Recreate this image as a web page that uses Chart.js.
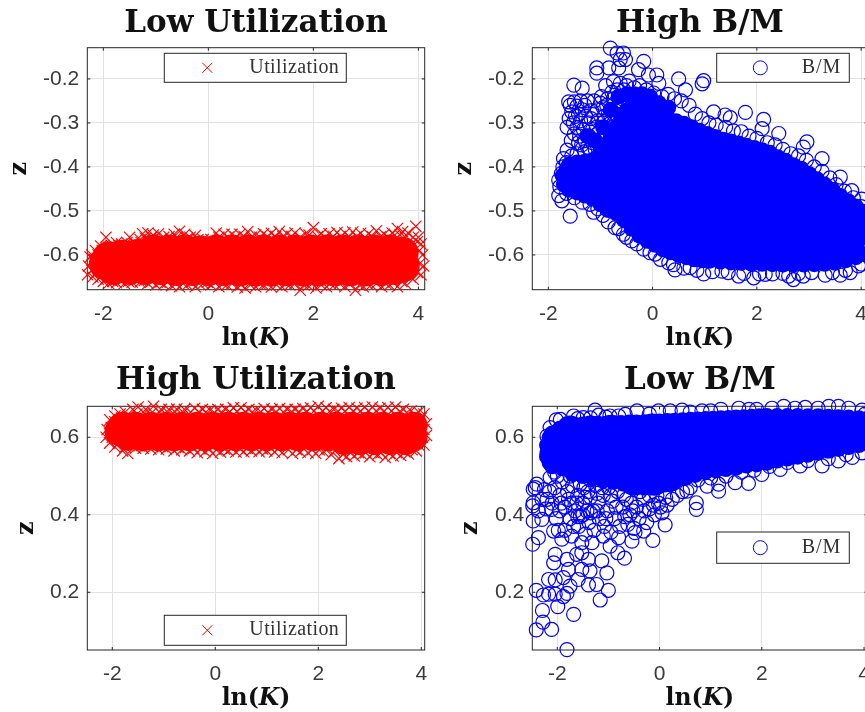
<!DOCTYPE html>
<html>
<head>
<meta charset="utf-8">
<title>Utilization and B/M</title>
<script src="https://cdn.jsdelivr.net/npm/chart.js@4"></script>
<style>
  html, body { margin: 0; padding: 0; background: #fff; overflow: hidden; width: 865px; height: 712px; }
  canvas { position: absolute; filter: blur(0.45px); }
</style>
</head>
<body>
<!-- canvases run a bit wider than the panels: Chart.js keeps room on the right for the big dense markers -->
<canvas id="lowUtil" width="441" height="356" style="left:0;top:0"></canvas>
<canvas id="highBM" width="449" height="356" style="left:435px;top:0"></canvas>
<canvas id="highUtil" width="441" height="356" style="left:0;top:356px"></canvas>
<canvas id="lowBM" width="449" height="356" style="left:435px;top:356px"></canvas>
<script>
// ==========================
// Data, [lnK, z]
// "Core"/"Rim" = parts of a blob where the marks merge, "Edge" = marks you can still see
// ==========================
const kTicks = [-2, 0, 2, 4];
const negZTicks = [-0.6, -0.5, -0.4, -0.3, -0.2];
const posZTicks = [0.2, 0.4, 0.6];

const lowUtilCore = [
  [-1.97,-.62],[-1.9,-.605],[-1.65,-.602],[-1.35,-.6],[-1.05,-.59],[-.75,-.59],[-.45,-.59],[-.15,-.592],[.15,-.59],[.45,-.59],
  [.75,-.59],[1.05,-.59],[1.35,-.59],[1.65,-.59],[1.95,-.59],[2.25,-.59],[2.55,-.59],[2.85,-.59],[3.15,-.59],[3.45,-.59],[3.7,-.595],
  [-1.8,-.632],[-1.5,-.632],[-1.2,-.632],[-.9,-.632],[-.6,-.634],[-.3,-.634],[0,-.634],[.3,-.634],[.6,-.635],[.9,-.635],
  [1.2,-.635],[1.5,-.635],[1.8,-.635],[2.1,-.635],[2.4,-.635],[2.7,-.635],[3,-.635],[3.3,-.634],[3.55,-.632],[3.72,-.625]
];
const lowUtilEdge = [
  [-2.25,-.605],[-2.15,-.59],[-2.05,-.58],[-1.95,-.56],[-1.85,-.578],[-1.75,-.572],[-1.65,-.575],[-1.55,-.572],[-1.5,-.56],[-1.4,-.575],
  [-1.3,-.565],[-1.25,-.552],[-1.15,-.55],[-1.05,-.555],[-.95,-.552],[-.85,-.56],[-.75,-.558],[-.65,-.553],[-.55,-.546],[-.45,-.553],
  [-.35,-.56],[-.25,-.556],[-.1,-.565],[.05,-.565],[.15,-.55],[.3,-.553],[.45,-.553],[.6,-.553],[.75,-.547],[.9,-.555],
  [1.05,-.552],[1.2,-.551],[1.35,-.547],[1.5,-.552],[1.65,-.55],[1.85,-.552],[2,-.538],[2.15,-.552],[2.3,-.552],[2.45,-.549],
  [2.6,-.55],[2.75,-.548],[2.9,-.551],[3.05,-.552],[3.2,-.545],[3.35,-.553],[3.5,-.55],[3.6,-.54],[3.7,-.547],[3.8,-.55],
  [3.95,-.535],[4,-.56],[4.05,-.575],[4.08,-.6],[4.1,-.625],[4.05,-.645],[3.9,-.655],[3.75,-.665],[3.6,-.672],[3.45,-.668],
  [3.3,-.672],[3.1,-.668],[2.95,-.672],[2.8,-.68],[2.6,-.672],[2.4,-.668],[2.25,-.672],[2.05,-.675],[1.9,-.67],[1.75,-.68],
  [1.55,-.668],[1.4,-.672],[1.2,-.673],[1.05,-.668],[.9,-.672],[.7,-.675],[.55,-.673],[.35,-.668],[.2,-.672],[.05,-.668],
  [-.1,-.665],[-.25,-.672],[-.4,-.668],[-.55,-.672],[-.7,-.67],[-.85,-.667],[-1,-.668],[-1.15,-.665],[-1.3,-.662],[-1.45,-.662],
  [-1.6,-.665],[-1.75,-.663],[-1.9,-.665],[-2,-.66],[-2.1,-.655],[-2.2,-.65],[-2.3,-.645],[-2.28,-.625],[-2.22,-.6],
  // second layer just inside the outline
  [-2.18,-.61],[-2.1,-.6],[-2.02,-.59],[-1.9,-.583],[-1.7,-.58],[-1.58,-.582],[-1.42,-.58],[-1.28,-.572],[-1.2,-.562],[-1.08,-.56],
  [-.9,-.565],[-.72,-.565],[-.6,-.56],[-.4,-.562],[-.2,-.565],[.2,-.56],[.38,-.56],[.52,-.56],[.68,-.558],[.82,-.56],
  [.98,-.56],[1.12,-.558],[1.28,-.558],[1.42,-.558],[1.58,-.558],[1.75,-.56],[1.92,-.555],[2.08,-.558],[2.22,-.56],[2.38,-.558],
  [2.52,-.558],[2.68,-.558],[2.82,-.558],[2.98,-.56],[3.12,-.558],[3.28,-.558],[3.42,-.56],[3.55,-.555],[3.65,-.555],[3.75,-.56],
  [3.9,-.56],[3.98,-.57],[4.02,-.59],[4.02,-.62],[3.98,-.64],[3.85,-.65],[3.68,-.66],[3.52,-.662],[3.38,-.665],[3.2,-.665],
  [3.02,-.665],[2.88,-.668],[2.7,-.665],[2.5,-.665],[2.32,-.665],[2.15,-.668],[1.98,-.665],[1.82,-.668],[1.65,-.665],[1.48,-.665],
  [1.3,-.668],[1.12,-.665],[.98,-.665],[.8,-.668],[.62,-.668],[.45,-.665],[.28,-.665],[.12,-.662],[-.02,-.662],[-.18,-.665],
  [-.32,-.662],[-.48,-.665],[-.62,-.665],[-.78,-.662],[-.92,-.662],[-1.08,-.66],[-1.22,-.658],[-1.38,-.656],[-1.52,-.66],[-1.68,-.658],
  [-1.82,-.66],[-1.95,-.655],[-2.05,-.65],[-2.15,-.642],[-2.22,-.635]
];

const highBMCore = [
  [-.2,-.282],[.1,-.295],[-.5,-.308],
  [-.45,-.32],[-.05,-.32],[.35,-.32],[.65,-.33],[1,-.345],[1.5,-.36],
  [-.75,-.365],[-.35,-.365],[.05,-.365],[.45,-.365],[.85,-.365],[1.25,-.365],[1.65,-.375],[1.95,-.385],[2.3,-.395],
  [-1.45,-.41],[-1.05,-.41],[-.65,-.41],[-.25,-.41],[.15,-.41],[.55,-.41],[.95,-.41],[1.35,-.41],[1.75,-.41],[2.15,-.41],[2.55,-.42],[2.95,-.435],
  [-1.5,-.425],[-1.45,-.44],[-1.25,-.44],[-.85,-.455],[-.45,-.455],[-.05,-.455],[.35,-.455],[.75,-.455],[1.15,-.455],[1.55,-.455],[1.95,-.455],[2.35,-.455],[2.75,-.455],[3.15,-.465],[3.45,-.475],[3.7,-.495],
  [-.6,-.49],[-.2,-.5],[.2,-.5],[.6,-.5],[1,-.5],[1.4,-.5],[1.8,-.5],[2.2,-.5],[2.6,-.5],[3,-.5],[3.4,-.5],[3.8,-.52],
  [-.3,-.52],[-.1,-.535],[.25,-.545],[.65,-.545],[1.05,-.545],[1.45,-.545],[1.85,-.545],[2.25,-.545],[2.65,-.545],[3.05,-.545],[3.45,-.545],[3.85,-.56],[4.05,-.54],
  [.35,-.575],[.55,-.58],[.8,-.585],[1.2,-.59],[1.6,-.59],[2,-.59],[2.4,-.59],[2.8,-.59],[3.2,-.59],[3.6,-.585]
];
const highBMRim = [
  [-1.6,-.395],[-1.45,-.39],[-1.3,-.388],[-1.15,-.385],[-1,-.37],[-.9,-.35],[-.8,-.33],[-.7,-.31],[-.6,-.29],[-.5,-.272],
  [-.4,-.262],[-.3,-.257],[-.2,-.258],[-.1,-.262],[0,-.268],[.1,-.275],[.2,-.282],[.3,-.29],[.45,-.296],[.6,-.302],
  [.75,-.31],[.9,-.318],[1.05,-.325],[1.2,-.332],[1.35,-.338],[1.5,-.342],[1.65,-.347],[1.8,-.352],[1.95,-.357],[2.1,-.362],
  [2.25,-.368],[2.4,-.378],[2.55,-.386],[2.7,-.396],[2.85,-.404],[3,-.416],[3.15,-.428],[3.3,-.44],[3.45,-.452],[3.6,-.466],
  [3.75,-.478],[3.9,-.49],[4.05,-.502],
  [-1.6,-.452],[-1.45,-.458],[-1.3,-.465],[-1.15,-.472],[-1,-.485],[-.85,-.498],[-.7,-.505],[-.55,-.52],[-.4,-.54],[-.25,-.556],
  [-.1,-.568],[.05,-.577],[.2,-.587],[.35,-.594],[.5,-.6],[.65,-.605],[.8,-.61],[.95,-.612],[1.1,-.613],[1.3,-.615],
  [1.5,-.617],[1.7,-.618],[1.9,-.62],[2.1,-.62],[2.3,-.621],[2.5,-.622],[2.7,-.622],[2.9,-.622],[3.1,-.621],[3.3,-.62],
  [3.5,-.618],[3.7,-.612],[3.9,-.605],[4.05,-.598],
  [-1.72,-.42],[-1.7,-.44],[-1.65,-.405],
  // upper left, merged patches
  [-1.25,-.33],[-1.1,-.34],[-.95,-.31],[-.8,-.27],[-.65,-.24],[-.5,-.235],[-.35,-.235],[-.2,-.235],[-.05,-.24],[.12,-.255],[.3,-.265]
];
const highBMEdge = [
  // top stragglers
  [-.81,-.13],[-.68,-.141],[-.56,-.141],[-.52,-.156],[-.62,-.156],[-.17,-.16],[-1.07,-.175],[-1.07,-.187],[-.84,-.175],[-.65,-.175],
  [-.27,-.179],[-.08,-.191],[.08,-.191],[.12,-.21],[.5,-.2],[.98,-.204],[.95,-.211],[-1.51,-.214],[-1.35,-.221],[-.75,-.206],
  [.63,-.225],[1.78,-.276],[1.17,-.275],[1.39,-.282],[1.49,-.288],[2.13,-.292],[2.1,-.313],[2.42,-.324],[2.96,-.343],[2.89,-.355],
  [3.25,-.381],[3.6,-.423],[3.82,-.454],[4.01,-.473],[-1.58,-.512],[-1.64,-.31],[-1.61,-.252],[-1.64,-.362],[-1.71,-.381],[-1.8,-.465],
  [-1.74,-.477],[-1.13,-.503],[-.72,-.538],[-.56,-.553],[-.4,-.568],[-.17,-.587],[.05,-.598],[.31,-.618],[.43,-.634],[.72,-.629],
  [.98,-.643],[1.33,-.637],[1.65,-.648],[1.94,-.652],[2.16,-.644],[2.61,-.648],[2.7,-.656],[2.89,-.648],[3.31,-.646],[3.6,-.646],
  [3.79,-.64],[4.01,-.621],
  // upper left band where the rings stay apart
  [-1.58,-.26],[-1.55,-.275],[-1.6,-.29],[-1.5,-.252],[-1.45,-.262],[-1.42,-.28],[-1.52,-.3],[-1.45,-.31],[-1.38,-.295],[-1.5,-.325],
  [-1.4,-.33],[-1.33,-.315],[-1.3,-.26],[-1.28,-.285],[-1.22,-.3],[-1.3,-.34],[-1.22,-.33],[-1.15,-.345],[-1.15,-.315],[-1.17,-.272],
  [-1.12,-.25],[-1.06,-.27],[-1.05,-.295],[-1.05,-.325],[-1.02,-.35],[-.98,-.24],[-.95,-.265],[-.95,-.3],[-.92,-.325],[-.9,-.215],
  [-.86,-.245],[-.85,-.28],[-.8,-.3],[-.78,-.23],[-.72,-.255],[-.7,-.28],[-.62,-.21],[-.55,-.225],[-.45,-.205],[-.35,-.22],
  [-.25,-.215],[-.12,-.225],[.02,-.232],[.18,-.24],[.3,-.235],[.42,-.245],[.55,-.25],[.7,-.26],[.82,-.28],[.95,-.29],
  [1.08,-.3],[1.22,-.305],[1.4,-.31],[1.55,-.318],[1.7,-.32],[1.85,-.33],[2,-.335],[2.2,-.345],[2.35,-.35],[2.5,-.36],
  [2.65,-.37],[2.8,-.375],[2.95,-.385],[3.1,-.4],[3.25,-.41],[3.4,-.425],[3.52,-.44],[3.68,-.455],[3.85,-.47],[4,-.49],
  [-1.48,-.285],[-1.35,-.27],[-1.25,-.25],[-1.36,-.35],[-1.42,-.345],[-1.56,-.34],[-1.25,-.355],[-1.1,-.36],[-.97,-.335],[-.88,-.26],
  [-.75,-.245],[-.68,-.225],[-.58,-.245],[-.5,-.215],[-.92,-.285],[-.74,-.3],[-1.18,-.29],[-1.08,-.31],[-1.38,-.25],[-1,-.255],
  // left tip, lower edge
  [-1.8,-.43],[-1.78,-.445],[-1.75,-.415],[-1.72,-.4],[-1.65,-.39],[-1.55,-.375],[-1.45,-.37],[-1.3,-.365],[-1.2,-.36],[-1.65,-.46],
  [-1.5,-.47],[-1.35,-.48],[-1.2,-.485],[-1.05,-.495],[-.95,-.51],[-.85,-.525],[-.65,-.54],[-.5,-.56],[-.3,-.575],[-.05,-.595],
  [.15,-.61],[.4,-.622],[.6,-.63],[.85,-.635],[1.15,-.638],[1.45,-.64],[1.75,-.642],[2.05,-.643],[2.3,-.643],[2.5,-.642],
  [2.8,-.642],[3.05,-.64],[3.45,-.64],[3.7,-.635],[3.95,-.625]
];

const highUtilCore = [
  [-1.88,.615],
  [-1.8,.63],[-1.55,.63],[-1.25,.63],[-.95,.63],[-.65,.63],[-.35,.63],[-.05,.63],[.25,.63],[.55,.63],[.85,.63],
  [1.15,.63],[1.45,.63],[1.75,.63],[2.05,.63],[2.35,.63],[2.65,.63],[2.95,.63],[3.25,.63],[3.55,.63],[3.85,.63],
  [-1.7,.602],[-1.4,.6],[-1.1,.6],[-.8,.6],[-.5,.6],[-.2,.6],[.1,.6],[.4,.6],[.7,.6],[1,.6],
  [1.3,.6],[1.6,.6],[1.9,.6],[2.2,.6],[2.5,.59],[2.8,.59],[3.1,.59],[3.4,.59],[3.7,.59],[3.85,.6]
];
const highUtilEdge = [
  [-2.1,.62],[-2.05,.645],[-1.95,.655],[-1.85,.66],[-1.75,.665],[-1.6,.672],[-1.5,.678],[-1.35,.672],[-1.2,.68],[-1.05,.672],
  [-.9,.672],[-.75,.673],[-.6,.672],[-.4,.675],[-.25,.672],[-.1,.67],[.05,.672],[.2,.672],[.35,.676],[.5,.676],
  [.65,.672],[.8,.67],[.95,.674],[1.1,.672],[1.25,.674],[1.4,.672],[1.55,.672],[1.7,.674],[1.85,.676],[2,.68],
  [2.15,.676],[2.3,.672],[2.45,.675],[2.6,.677],[2.75,.675],[2.9,.677],[3.05,.678],[3.2,.675],[3.35,.677],[3.5,.678],
  [3.65,.672],[3.8,.668],[3.95,.665],[4.05,.66],[4.1,.635],
  [-2.12,.6],[-2.05,.585],[-1.95,.575],[-1.8,.565],[-1.7,.558],[-1.55,.572],[-1.4,.572],[-1.25,.57],[-1.1,.568],[-.95,.57],
  [-.8,.565],[-.65,.568],[-.5,.565],[-.35,.56],[-.2,.563],[-.05,.558],[.1,.562],[.25,.565],[.4,.562],[.55,.563],
  [.7,.565],[.85,.563],[1,.565],[1.15,.562],[1.3,.56],[1.5,.558],[1.65,.562],[1.8,.56],[1.95,.558],[2.1,.563],
  [2.25,.555],[2.4,.545],[2.55,.55],[2.7,.552],[2.85,.555],[3,.55],[3.15,.555],[3.3,.548],[3.45,.552],[3.6,.553],
  [3.75,.557],[3.9,.565],[4.05,.58],[4.1,.605],
  // second layer just inside the outline
  [-2.02,.625],[-1.95,.64],[-1.82,.65],[-1.68,.655],[-1.52,.66],[-1.38,.662],[-1.22,.665],[-1.08,.664],[-.92,.664],[-.78,.665],
  [-.62,.664],[-.48,.665],[-.32,.666],[-.18,.665],[-.02,.664],[.12,.665],[.28,.666],[.42,.667],[.58,.666],[.72,.665],
  [.88,.666],[1.02,.665],[1.18,.666],[1.32,.665],[1.48,.666],[1.62,.666],[1.78,.667],[1.92,.668],[2.08,.668],[2.22,.667],
  [2.38,.667],[2.52,.668],[2.68,.668],[2.82,.668],[2.98,.668],[3.12,.668],[3.28,.668],[3.42,.668],[3.58,.666],[3.72,.664],
  [3.88,.658],[4,.65],[4.05,.62],[4.02,.6],[3.95,.58],[3.82,.568],[3.68,.562],[3.52,.56],[3.38,.558],[3.22,.56],
  [3.08,.56],[2.92,.56],[2.78,.56],[2.62,.56],[2.48,.556],[2.32,.565],[2.18,.57],[2.02,.568],[1.88,.568],[1.72,.57],
  [1.58,.568],[1.42,.568],[1.22,.57],[1.08,.572],[.92,.57],[.78,.572],[.62,.572],[.48,.57],[.32,.572],[.18,.57],
  [.02,.568],[-.12,.57],[-.28,.57],[-.42,.572],[-.58,.574],[-.72,.574],[-.88,.576],[-1.02,.576],[-1.18,.578],[-1.32,.578],
  [-1.48,.578],[-1.62,.578],[-1.75,.575],[-1.88,.585],[-2,.6],[-2.05,.61]
];

const lowBMCore = [
  [-1.75,.62],[-1.35,.62],[-.95,.622],[-.55,.622],[-.15,.625],[.25,.625],[.65,.628],[1.05,.63],[1.45,.632],[1.85,.635],[2.25,.635],[2.65,.635],[3.05,.635],[3.45,.635],[3.85,.63],
  [-1.95,.59],[-1.55,.59],[-1.15,.59],[-.75,.59],[-.35,.59],[.05,.59],[.45,.59],[.85,.59],[1.25,.59],[1.65,.59],[2.05,.59],[2.45,.595],[2.85,.595],[3.25,.6],[3.65,.6],[4,.605],
  [-1.95,.55],[-1.75,.55],[-1.35,.55],[-.95,.55],[-.55,.55],[-.15,.55],[.25,.55],[.65,.55],[1.05,.55],[1.45,.55],[1.85,.55],[2.25,.565],[2.65,.58],[3.05,.585],[3.45,.595],
  [-1.5,.52],[-1.1,.51],[-.7,.51],[-.3,.51],[.1,.51],[.5,.525],
  [-.5,.485],[-.1,.485],[.2,.495]
];
const lowBMRim = [
  [-2.1,.61],[-1.95,.622],[-1.8,.63],[-1.65,.632],[-1.5,.633],[-1.35,.634],[-1.2,.635],[-1.05,.635],[-.9,.636],[-.75,.637],
  [-.6,.638],[-.45,.638],[-.3,.639],[-.15,.64],[0,.641],[.15,.642],[.3,.643],[.45,.644],[.6,.645],[.75,.646],
  [.9,.647],[1.05,.648],[1.2,.649],[1.35,.65],[1.5,.651],[1.65,.652],[1.8,.653],[1.95,.654],[2.1,.655],[2.3,.655],
  [2.5,.655],[2.7,.655],[2.9,.654],[3.1,.654],[3.3,.653],[3.5,.652],[3.7,.651],[3.9,.649],[4.05,.647],
  [-2.15,.535],[-2.1,.525],[-1.9,.52],[-1.7,.505],[-1.5,.5],[-1.3,.495],[-1.1,.488],[-.9,.485],[-.7,.48],[-.5,.475],
  [-.3,.47],[-.1,.472],[.1,.478],[.3,.487],[.5,.495],[.7,.503],[.9,.51],[1.1,.515],[1.3,.518],[1.5,.522],
  [1.7,.527],[1.9,.53],[2.1,.534],[2.3,.54],[2.5,.545],[2.7,.55],[2.9,.555],[3.1,.56],[3.3,.565],[3.5,.57],
  [3.7,.575],[3.9,.58],[4.05,.585],
  [-2.2,.58],[-2.2,.55],[-2.15,.6],[-2.18,.565]
];
const lowBMEdge = [
  // sparse tail, bottom left
  [-1.81,.052],[-2.41,.103],[-2.11,.104],[-2.28,.123],[-2.29,.153],[-1.68,.143],[-1.99,.163],[-2.41,.205],[-2.27,.193],[-2.17,.195],
  [-2.04,.195],[-1.88,.189],[-1.81,.197],[-1.75,.216],[-1.16,.18],[-1,.205],[-1.23,.22],[-1.39,.219],[-2.17,.233],[-2.04,.232],
  [-1.88,.238],[-1.59,.233],[-1.03,.25],[-1.36,.255],[-2.07,.276],[-2.04,.298],[-1.81,.285],[-1.78,.259],[-1.52,.259],[-1.62,.298],
  [-1.39,.285],[-1.13,.281],[-.685,.288],[-.816,.302],[-.966,.319],[-1.52,.302],[-2.48,.324],[-2.37,.341],[-1.91,.337],[-2.07,.358],
  [-.13,.334],[-.54,.332],[-.31,.358],[.11,.374],[-.48,.354],[-.8,.341],[-1.32,.328],[-1.1,.345],[-1.52,.328],[-1.72,.345],
  [-2.47,.384],[-2.3,.388],[-2.48,.423],[-2.43,.47],[-2.4,.479],[-2.47,.466],[-2.47,.431],[-2.3,.44],[-2.37,.41],[-2.11,.414],
  [.72,.431],[.72,.414],[1.155,.461],[1.155,.479],[1.48,.483],[1.74,.481],[2,.504],[.93,.474],[.535,.461],[2.36,.517],
  [2.75,.526],[3.18,.526],[3.5,.539],[3.77,.548],[3.96,.56],
  // top edge
  [-1.94,.646],[-1.68,.655],[-1.49,.651],[-1.26,.67],[-1.19,.657],[-.97,.655],[-.44,.668],[-.67,.659],[-.02,.668],[.21,.668],
  [.44,.67],[.83,.668],[1.2,.672],[1.55,.675],[1.9,.672],[2.2,.675],[2.43,.68],[2.85,.677],[3.31,.68],[3.5,.68],[3.96,.67],
  [-2.14,.625],[-2.2,.603],[-2.2,.56],[-2.14,.535],[-2.14,.496],[-2.05,.51],[-2.02,.645],[-1.6,.648],[-1.35,.65],[-1.05,.652],
  [-.8,.655],[-.2,.66],[.6,.665],[1,.668],[1.75,.672],[2.65,.675],[3.1,.675],[3.7,.675],[4.02,.66],
  // loose middle, rings with white between them
  [-2.05,.47],[-1.95,.45],[-1.9,.485],[-1.85,.42],[-1.8,.46],[-1.75,.39],[-1.72,.43],[-1.7,.475],[-1.65,.41],[-1.6,.45],
  [-1.58,.37],[-1.55,.395],[-1.5,.43],[-1.48,.47],[-1.45,.35],[-1.42,.41],[-1.38,.38],[-1.35,.445],[-1.3,.41],[-1.28,.36],
  [-1.25,.475],[-1.2,.43],[-1.18,.39],[-1.1,.45],[-1.08,.37],[-1.02,.41],[-1,.47],[-.95,.355],[-.92,.435],[-.88,.39],
  [-.82,.46],[-.78,.37],[-.72,.42],[-.65,.44],[-.62,.375],[-.58,.4],[-.5,.365],[-.45,.42],[-.4,.39],[-.32,.44],
  [-.25,.38],[-.2,.415],[-.1,.4],[-.02,.43],[.05,.405],[.15,.425],[.25,.44],[.35,.45],[.45,.46],[.6,.47],
  [-2.2,.44],[-2.15,.46],[-2.1,.43],[-2.02,.39],[-1.95,.41],[-2.22,.415],[-2.25,.465],[-1.85,.36],[-1.68,.37],[-1.98,.36],
  [-1.9,.52],[-1.75,.5],[-2,.5],[-1.65,.51],[-1.55,.48],[-1.35,.49],[.75,.49],[1,.495],[1.3,.5],[1.6,.51],
  [1.85,.515],[2.15,.525],[2.5,.535],[2.9,.54],[3.3,.545],[3.65,.555],
  [-1.92,.43],[-1.78,.44],[-1.62,.43],[-1.45,.445],[-1.4,.46],[-1.22,.455],[-1.12,.47],[-.95,.45],[-.85,.42],[-.7,.45],
  [-.55,.43],[-.38,.46],[-.2,.45],[-.05,.45],[.12,.445],[.02,.42],[-.12,.425],[-.3,.41],[-.52,.41],[-.68,.395],
  [-1.05,.39],[-1.22,.41],[-1.35,.405],[-1.5,.4],[-1.6,.395]
];

// ==========================
// Panel Settings
// ==========================
const TITLE_FONT = '"DejaVu Serif", serif';
const SERIF = '"Liberation Serif", serif';
const SANS = '"Liberation Sans", Arial, sans-serif';
const INK = "#262626";
const RED = "#ff0000";
const BLUE = "#0000ff";

function toPoints(pairs) {
  return pairs.map(p => ({ x: p[0], y: p[1] }));
}

// ==========================
// Frame, ticks, titles, ln(K), legend box
// ==========================
const panelDecor = {
  id: "panelDecor",
  beforeDatasetsDraw(chart, args, opts) {
    const { ctx, chartArea: a, scales } = chart;
    ctx.save();
    ctx.strokeStyle = INK;
    ctx.lineWidth = 1;
    ctx.beginPath();
    kTicks.forEach(v => {
      const x = scales.x.getPixelForValue(v);
      ctx.moveTo(x, a.top); ctx.lineTo(x, a.top + 3);
      ctx.moveTo(x, a.bottom); ctx.lineTo(x, a.bottom - 3);
    });
    opts.zTicks.forEach(v => {
      const y = scales.y.getPixelForValue(v);
      ctx.moveTo(a.left, y); ctx.lineTo(a.left + 3, y);
      ctx.moveTo(a.right, y); ctx.lineTo(a.right - 3, y);
    });
    ctx.stroke();
    ctx.strokeRect(a.left, a.top, a.right - a.left, a.bottom - a.top);
    ctx.restore();
  },
  afterDraw(chart, args, opts) {
    const { ctx, chartArea: a } = chart;
    const mid = (a.left + a.right) / 2;
    ctx.save();
    ctx.fillStyle = "#111";
    ctx.textBaseline = "alphabetic";

    // panel title
    ctx.font = "bold 31px " + TITLE_FONT;
    ctx.textAlign = "center";
    ctx.fillText(opts.title, mid, a.top - opts.titleGap);

    // ln(K) with the K in italics
    ctx.textAlign = "left";
    const parts = [["ln(", "bold 23.5px "], ["K", "italic bold 23.5px "], [")", "bold 23.5px "]];
    let total = 0;
    parts.forEach(p => { ctx.font = p[1] + TITLE_FONT; total += ctx.measureText(p[0]).width; });
    let x = mid - total / 2;
    parts.forEach(p => {
      ctx.font = p[1] + TITLE_FONT;
      ctx.fillText(p[0], x, a.bottom + 55);
      x += ctx.measureText(p[0]).width;
    });

    // legend
    const b = opts.legendBox;
    const cy = (b[1] + b[3]) / 2;
    ctx.fillStyle = "#fff";
    ctx.fillRect(b[0], b[1], b[2] - b[0], b[3] - b[1]);
    ctx.strokeStyle = INK;
    ctx.lineWidth = 1;
    ctx.strokeRect(b[0], b[1], b[2] - b[0], b[3] - b[1]);
    ctx.strokeStyle = opts.color;
    ctx.beginPath();
    if (opts.marker === "cross") {
      ctx.moveTo(opts.markerX - 5, cy - 5); ctx.lineTo(opts.markerX + 5, cy + 5);
      ctx.moveTo(opts.markerX - 5, cy + 5); ctx.lineTo(opts.markerX + 5, cy - 5);
    } else {
      ctx.arc(opts.markerX, cy, 7, 0, Math.PI * 2);
    }
    ctx.stroke();
    ctx.fillStyle = "#333";
    ctx.font = "20px " + SERIF;
    ctx.letterSpacing = opts.marker === "cross" ? "0.4px" : "1px";
    ctx.fillText(opts.label, opts.textX, cy + 5);
    ctx.restore();
  }
};

// ==========================
// Chart Helper
// ==========================
function makePanel(id, cfg) {
  const isCross = cfg.marker === "cross";
  const filled = (label, pairs, radius) => ({
    label: label,
    data: toPoints(pairs),
    pointStyle: "circle",
    pointRadius: radius,
    pointBorderWidth: 0,
    pointBackgroundColor: cfg.color,
    clip: false,
    showLine: false
  });
  const datasets = [filled(cfg.label + " (dense)", cfg.core, cfg.coreRadius)];
  if (cfg.rim) datasets.push(filled(cfg.label + " (rim)", cfg.rim, 8));
  datasets.push({
    label: cfg.label,
    data: toPoints(cfg.edge),
    pointStyle: isCross ? "crossRot" : "circle",
    pointRadius: isCross ? 8 : 7,
    pointBorderWidth: isCross ? 1.1 : 1.2,
    pointBorderColor: cfg.color,
    pointBackgroundColor: "rgba(0,0,0,0)",
    clip: false,
    showLine: false
  });
  return new Chart(document.getElementById(id), {
    type: "scatter",
    data: { datasets: datasets },
    options: {
      responsive: false,
      animation: false,
      events: [],
      layout: { padding: { top: cfg.plotTop, right: cfg.padRight, left: 0, bottom: 0 } },
      plugins: {
        legend: { display: false },
        tooltip: { enabled: false },
        panelDecor: {
          title: cfg.title, titleGap: cfg.titleGap, zTicks: cfg.zTicks, color: cfg.color,
          marker: cfg.marker, label: cfg.label, legendBox: cfg.legendBox,
          markerX: cfg.markerX, textX: cfg.textX
        }
      },
      scales: {
        x: {
          type: "linear",
          min: cfg.xMin,
          max: cfg.xMax,
          afterBuildTicks: s => { s.ticks = kTicks.map(v => ({ value: v })); },
          afterFit: s => { s.height = cfg.xHeight; s.paddingLeft = 0; s.paddingRight = 0; },
          border: { display: false },
          grid: { color: "#e2e2e2", lineWidth: 1, drawTicks: false },
          ticks: {
            color: "#3a3a3a", font: { family: SANS, size: 21 }, padding: 12,
            maxRotation: 0, autoSkip: false, callback: v => String(v)
          }
        },
        y: {
          type: "linear",
          min: cfg.yMin,
          max: cfg.yMax,
          afterBuildTicks: s => { s.ticks = cfg.zTicks.map(v => ({ value: v })); },
          afterFit: s => { s.width = cfg.yWidth; s.paddingTop = 0; s.paddingBottom = 0; },
          border: { display: false },
          grid: { color: "#e2e2e2", lineWidth: 1, drawTicks: false },
          title: {
            display: true, text: "z", color: "#111",
            font: { family: TITLE_FONT, size: 24, weight: "bold" },
            padding: { top: cfg.zGap, bottom: 0 }
          },
          ticks: {
            color: "#3a3a3a", font: { family: SANS, size: 21 }, padding: 8,
            autoSkip: false, callback: v => String(v)
          }
        }
      }
    },
    plugins: [panelDecor]
  });
}

// ==========================
// Panels
// ==========================
makePanel("lowUtil", {
  title: "Low Utilization", titleGap: 16, label: "Utilization", marker: "cross", color: RED,
  core: lowUtilCore, edge: lowUtilEdge, coreRadius: 16, zTicks: negZTicks,
  xMin: -2.305, xMax: 4.12, yMin: -0.679, yMax: -0.129,
  plotTop: 47.7, padRight: 16.3, xHeight: 66.3, yWidth: 87.3, zGap: 5.6,
  legendBox: [164.3, 53.3, 346.3, 82.3], markerX: 207.3, textX: 249.3
});
makePanel("highBM", {
  title: "High B/M", titleGap: 16, label: "B/M", marker: "circle", color: BLUE,
  core: highBMCore, rim: highBMRim, edge: highBMEdge, coreRadius: 14, zTicks: negZTicks,
  xMin: -2.307, xMax: 4.12, yMin: -0.679, yMax: -0.129,
  plotTop: 47.7, padRight: 16.6, xHeight: 66.3, yWidth: 97.3, zGap: 15,
  legendBox: [281.7, 53.3, 414.3, 82.3], markerX: 325.3, textX: 366.7
});
makePanel("highUtil", {
  title: "High Utilization", titleGap: 17, label: "Utilization", marker: "cross", color: RED,
  core: highUtilCore, edge: highUtilEdge, coreRadius: 14, zTicks: posZTicks,
  xMin: -2.485, xMax: 4.066, yMin: 0.051, yMax: 0.68,
  plotTop: 50.3, padRight: 16.3, xHeight: 62, yWidth: 87.3, zGap: 12.3,
  legendBox: [164.3, 259.3, 346.3, 289.3], markerX: 207.3, textX: 249.3
});
makePanel("lowBM", {
  title: "Low B/M", titleGap: 17, label: "B/M", marker: "circle", color: BLUE,
  core: lowBMCore, rim: lowBMRim, edge: lowBMEdge, coreRadius: 14, zTicks: posZTicks,
  xMin: -2.488, xMax: 4.066, yMin: 0.051, yMax: 0.68,
  plotTop: 50.3, padRight: 16.6, xHeight: 62, yWidth: 97.3, zGap: 21.6,
  legendBox: [281.7, 176, 414.3, 207.3], markerX: 325.3, textX: 366.7
});
</script>
</body>
</html>
